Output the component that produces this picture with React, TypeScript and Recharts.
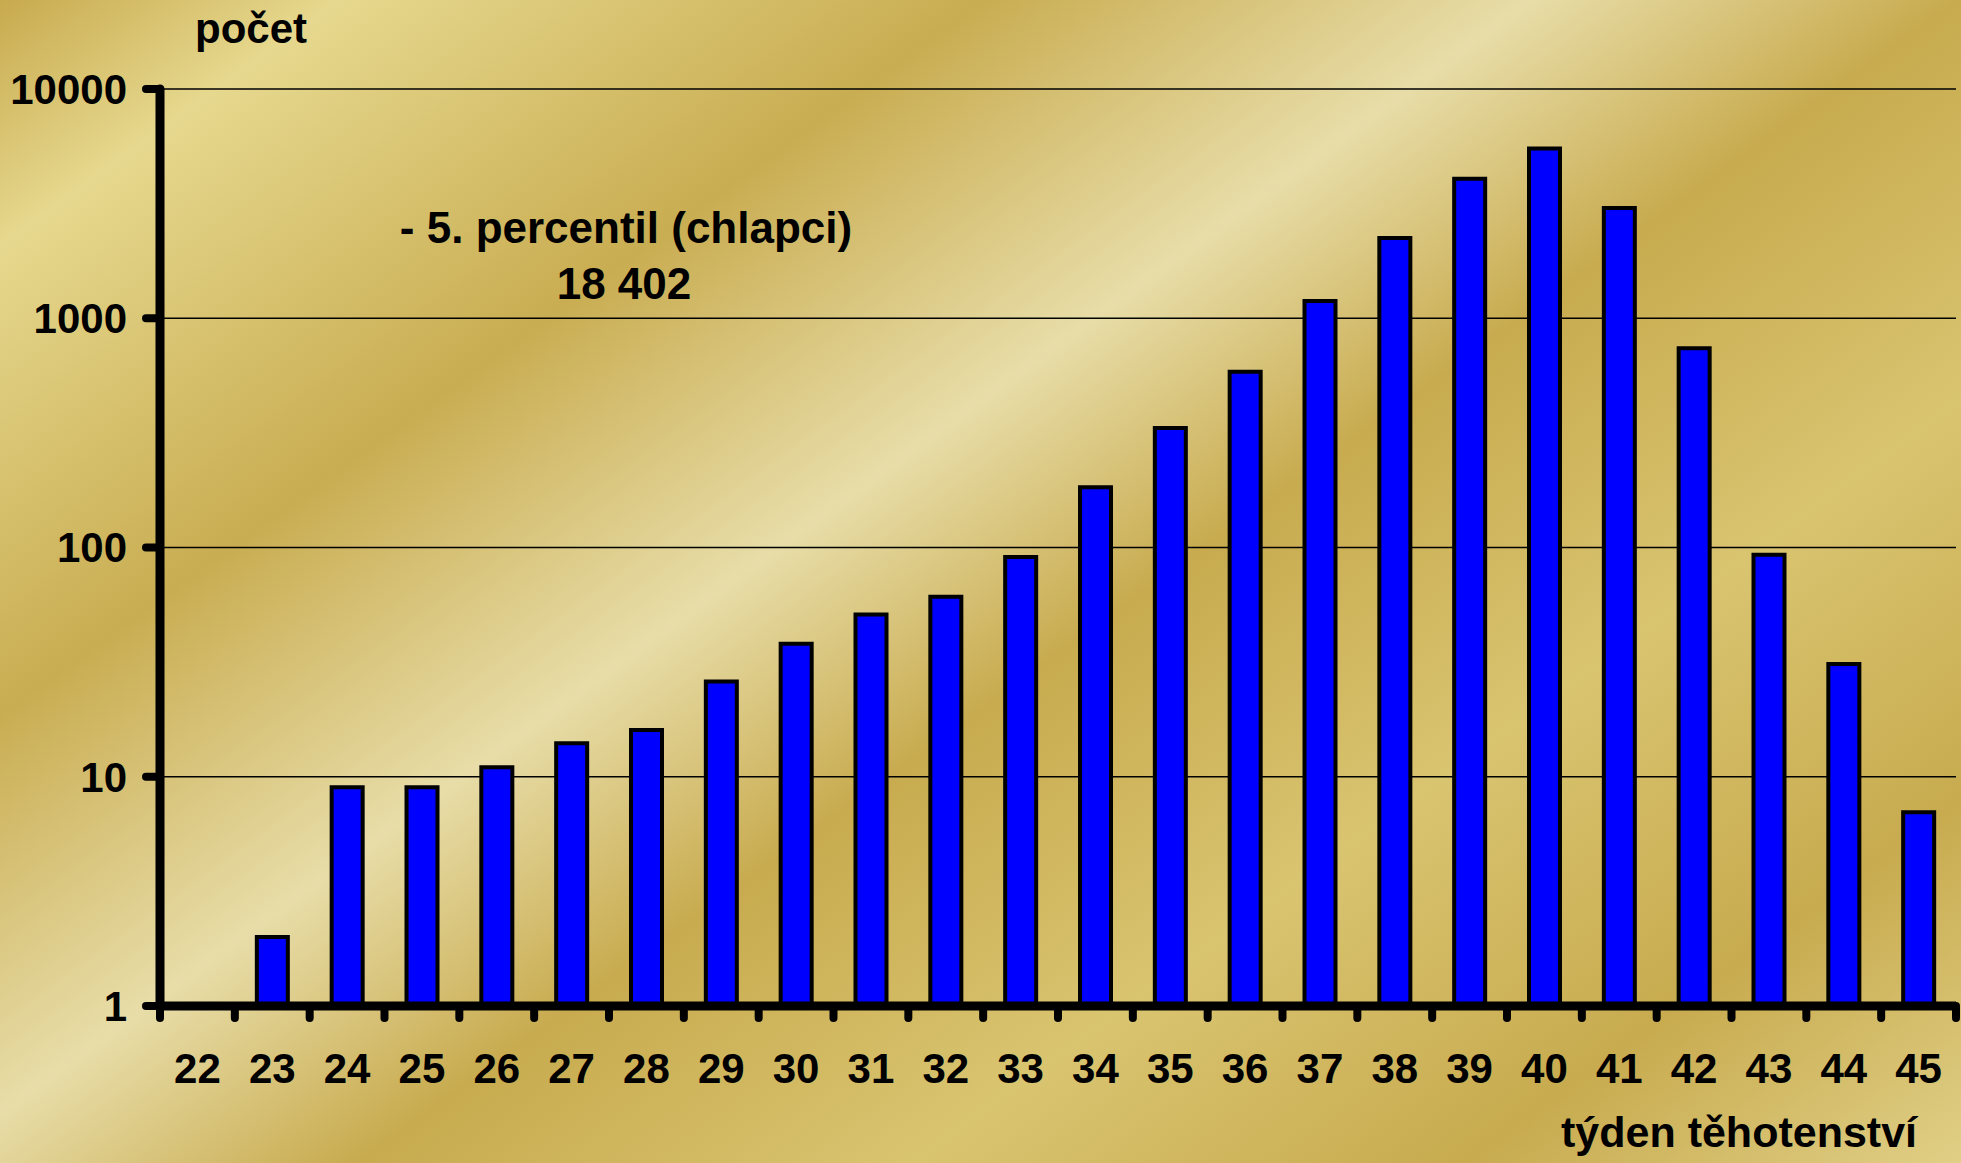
import { BarChart, Bar, XAxis, YAxis, CartesianGrid } from 'recharts';

// gestational week categories
const weeks = [
    '22', '23', '24', '25', '26', '27', '28', '29', '30', '31', '32', '33',
    '34', '35', '36', '37', '38', '39', '40', '41', '42', '43', '44', '45',
];

// counts per week (22nd week has no value)
const counts = [
    null, 2, 9, 9, 11, 14, 16, 26, 38, 51, 61, 91,
    183, 332, 585, 1190, 2240, 4060, 5500, 3030, 740, 93, 31, 7,
];

const yTicks = [1, 10, 100, 1000, 10000];

const data = weeks.map((w, i) => ({ week: w, count: counts[i] }));

const W = 1961;
const H = 1163;
const X_AXIS_H = 157;
const MARGIN = { top: 89, right: 5, bottom: 0, left: 0 };
const Y_AXIS_W = 160;
const BAND = (W - MARGIN.left - MARGIN.right - Y_AXIS_W) / weeks.length;

const FONT = '"Liberation Sans", Arial, sans-serif';

const bg =
    'linear-gradient(144deg, #c8aa4e 0%, #e6d88e 9.5%, #c9ad52 27.6%, #e8dda8 43%, ' +
    '#c8ab4f 55%, #d9c470 70.5%, #c8ab4f 86%, #e0cf86 100%)';

const XTick = (props: any) => {
    const { x, y, payload, index } = props;
    const last = index === weeks.length - 1;
    return (
        <g>
            <line x1={x - BAND / 2} y1={y} x2={x - BAND / 2} y2={y + 12}
                stroke="#000" strokeWidth={8} strokeLinecap="round" />
            {last && (
                <line x1={x + BAND / 2} y1={y} x2={x + BAND / 2} y2={y + 12}
                    stroke="#000" strokeWidth={8} strokeLinecap="round" />
            )}
            <text x={x} y={y + 77} textAnchor="middle" fontSize={42}
                fontWeight="bold" fontFamily={FONT} fill="#000">
                {payload.value}
            </text>
        </g>
    );
};

export default function App() {
    return (
        <div style={{ position: 'absolute', left: 0, top: 0, width: W, height: H, background: bg }}>
            <BarChart width={W} height={H} data={data} margin={MARGIN}>
                <CartesianGrid vertical={false} stroke="#000" strokeWidth={1.5} />
                <XAxis
                    dataKey="week"
                    interval={0}
                    tickSize={0}
                    tickMargin={0}
                    tickLine={false}
                    tick={<XTick />}
                    axisLine={{ stroke: '#000', strokeWidth: 9 }}
                    height={X_AXIS_H}
                />
                <YAxis
                    scale="log"
                    domain={[1, 10000]}
                    ticks={yTicks}
                    allowDataOverflow
                    width={Y_AXIS_W}
                    tickSize={14}
                    tickMargin={19}
                    tickLine={{ stroke: '#000', strokeWidth: 8, strokeLinecap: 'round' }}
                    axisLine={{ stroke: '#000', strokeWidth: 9, strokeLinecap: 'round' }}
                    tick={{ fill: '#000', fontSize: 42, fontWeight: 'bold', fontFamily: FONT }}
                />
                <Bar
                    dataKey="count"
                    fill="#0000ff"
                    stroke="#000"
                    strokeWidth={4}
                    barSize={31}
                    isAnimationActive={false}
                />
            </BarChart>
            <svg width={W} height={H}
                style={{ position: 'absolute', left: 0, top: 0, pointerEvents: 'none' }}>
                <g fontFamily={FONT} fontWeight="bold" fill="#000">
                    <text x={195} y={43} fontSize={42}>počet</text>
                    <text x={626} y={243} fontSize={44} textAnchor="middle">- 5. percentil (chlapci)</text>
                    <text x={624} y={299} fontSize={44} textAnchor="middle">18 402</text>
                    <text x={1917} y={1147} fontSize={43} textAnchor="end">týden těhotenství</text>
                </g>
            </svg>
        </div>
    );
}
